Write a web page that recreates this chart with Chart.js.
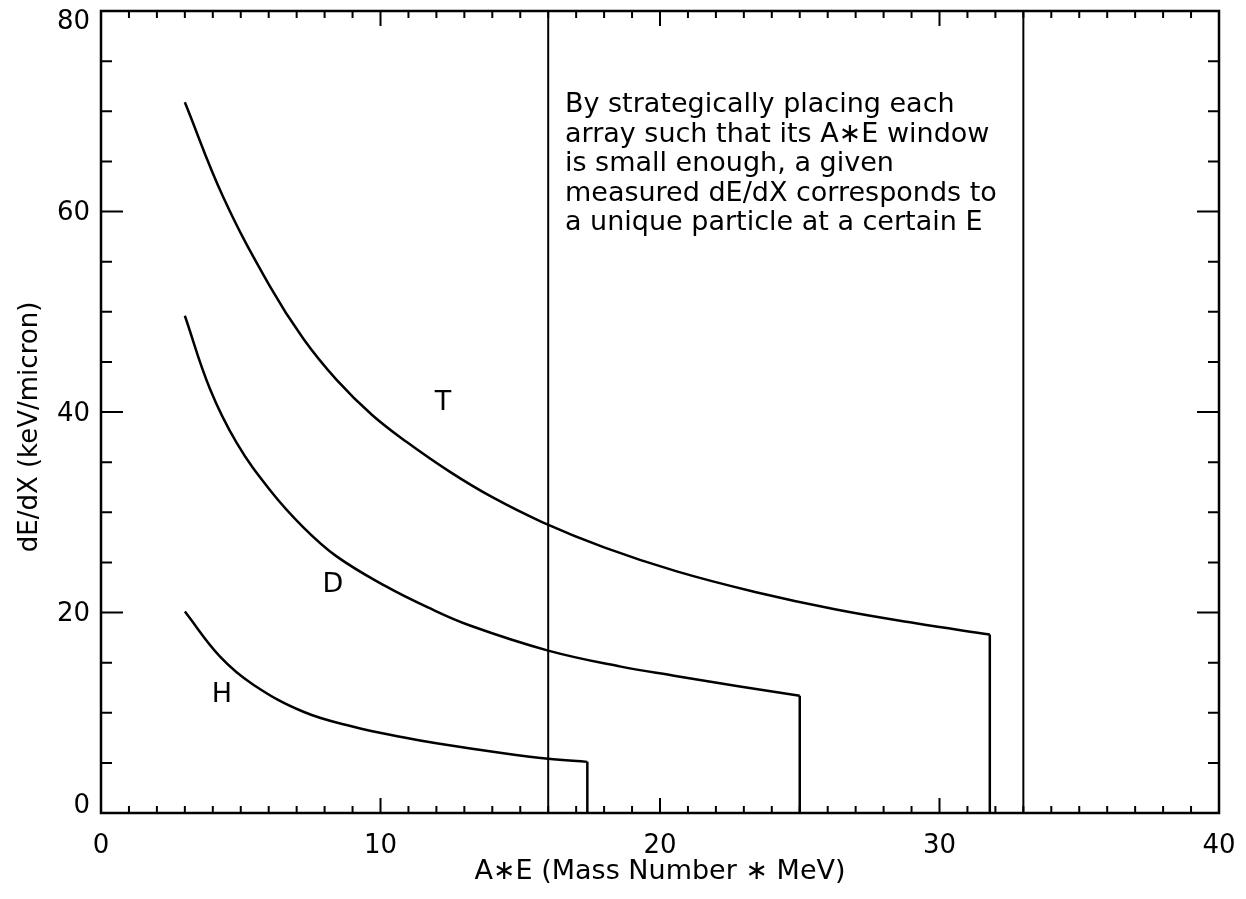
<!DOCTYPE html>
<html lang="en">
<head>
    <meta charset="UTF-8">
    <title>dE/dX vs A*E</title>
    <script src="https://cdn.jsdelivr.net/npm/chart.js"></script>
    <style>
        html, body { margin: 0; padding: 0; background: #fff; }
        #wrap { width: 1246px; height: 899px; }
    </style>
</head>
<body>
<div id="wrap"><canvas id="dedxChart" width="1246" height="899"></canvas></div>

<script>
    // Curves (A*E in MeV, dE/dX in keV/micron)
    const tritonX = [3.0, 4.38, 6.05, 7.24, 8.43, 9.7, 10.94, 12.5, 14.0, 15.8, 18.0, 20.6, 23.4, 26.3, 29.1, 31.8];
    const tritonY = [70.9, 61.4, 52.5, 47.3, 43.2, 39.7, 37.0, 34.0, 31.5, 29.0, 26.5, 24.1, 22.05, 20.3, 18.95, 17.8];

    const deuteronX = [3.0, 3.9, 4.86, 6.05, 7.24, 8.43, 10.2, 11.7, 13.2, 16.0, 18.6, 20.5, 22.8, 25.0];
    const deuteronY = [49.6, 42.3, 36.9, 32.2, 28.5, 25.6, 22.6, 20.5, 18.7, 16.2, 14.6, 13.7, 12.65, 11.7];

    const protonX = [3.0, 4.26, 5.45, 7.24, 9.03, 10.8, 12.0, 14.4, 16.0, 17.4];
    const protonY = [20.1, 15.6, 12.8, 10.1, 8.6, 7.55, 6.95, 5.95, 5.4, 5.1];

    // window edges (vertical lines)
    const windowEdges = [16, 33];

    // curve labels
    const curveLabels = ['T', 'D', 'H'];
    const labelX = [12.24, 8.3, 4.33];
    const labelY = [40.9, 22.7, 11.8];

    const noteLines = [
        'By strategically placing each',
        'array such that its A\u2217E window',
        'is small enough, a given',
        'measured dE/dX corresponds to',
        'a unique particle at a certain E'
    ];
    const noteX = 16.6;
    const noteY = 70.6;

    const xTickLabels = [0, 10, 20, 30, 40];
    const yTickLabels = [0, 20, 40, 60, 80];

    const FONT = 'DejaVu Sans';

    function toPoints(xs, ys) {
        return xs.map((x, i) => ({x: x, y: ys[i]}));
    }

    function dropLine(xs, ys) {
        const n = xs.length - 1;
        return [{x: xs[n], y: ys[n]}, {x: xs[n], y: 0}];
    }

    const lineStyle = {
        borderColor: '#000',
        borderWidth: 2.5,
        pointRadius: 0,
        fill: false
    };

    const datasets = [
        Object.assign({data: toPoints(tritonX, tritonY), tension: 0.4}, lineStyle),
        Object.assign({data: toPoints(deuteronX, deuteronY), tension: 0.4}, lineStyle),
        Object.assign({data: toPoints(protonX, protonY), tension: 0.4}, lineStyle),
        Object.assign({data: dropLine(tritonX, tritonY)}, lineStyle),
        Object.assign({data: dropLine(deuteronX, deuteronY)}, lineStyle),
        Object.assign({data: dropLine(protonX, protonY)}, lineStyle)
    ];
    windowEdges.forEach(e => {
        datasets.push(Object.assign({data: [{x: e, y: 0}, {x: e, y: 80}]}, lineStyle, {borderWidth: 2}));
    });

    // frame, inward ticks, y labels, curve labels and the note
    const decorations = {
        id: 'decorations',
        afterDatasetsDraw(chart) {
            const {ctx, chartArea: a, scales: {x, y}} = chart;
            ctx.save();
            ctx.strokeStyle = '#000';
            ctx.lineWidth = 2.5;
            ctx.strokeRect(a.left, a.top, a.right - a.left, a.bottom - a.top);

            ctx.lineWidth = 2;
            ctx.beginPath();
            for (let v = 1; v < 40; v++) {
                const px = x.getPixelForValue(v);
                const len = v % 10 === 0 ? 15 : 7;
                ctx.moveTo(px, a.bottom); ctx.lineTo(px, a.bottom - len);
                ctx.moveTo(px, a.top); ctx.lineTo(px, a.top + len);
            }
            for (let v = 5; v < 80; v += 5) {
                const py = y.getPixelForValue(v);
                const len = v % 20 === 0 ? 22 : 11;
                ctx.moveTo(a.left, py); ctx.lineTo(a.left + len, py);
                ctx.moveTo(a.right, py); ctx.lineTo(a.right - len, py);
            }
            ctx.stroke();

            ctx.fillStyle = '#000';

            // y tick labels, kept inside the axis span like the original
            ctx.font = '26px "' + FONT + '"';
            ctx.textAlign = 'right';
            yTickLabels.forEach(v => {
                let py = y.getPixelForValue(v) + 2;
                ctx.textBaseline = 'middle';
                if (v === y.max) { ctx.textBaseline = 'top'; py = a.top - 2; }
                if (v === y.min) { ctx.textBaseline = 'alphabetic'; py = a.bottom; }
                ctx.fillText(String(v), a.left - 11, py);
            });

            // y axis title
            ctx.save();
            ctx.font = '26px "' + FONT + '"';
            ctx.textAlign = 'center';
            ctx.textBaseline = 'middle';
            ctx.translate(30, (a.top + a.bottom) / 2 + 15);
            ctx.rotate(-Math.PI / 2);
            ctx.fillText('dE/dX (keV/micron)', 0, 0);
            ctx.restore();

            ctx.font = '27px "' + FONT + '"';
            ctx.textAlign = 'center';
            ctx.textBaseline = 'middle';
            curveLabels.forEach((t, i) => {
                ctx.fillText(t, x.getPixelForValue(labelX[i]), y.getPixelForValue(labelY[i]));
            });

            ctx.textAlign = 'left';
            const nx = x.getPixelForValue(noteX);
            const ny = y.getPixelForValue(noteY);
            noteLines.forEach((t, i) => {
                ctx.fillText(t, nx, ny + i * 29.5);
            });
            ctx.restore();
        }
    };

    const ctx = document.getElementById('dedxChart').getContext('2d');
    new Chart(ctx, {
        type: 'line',
        data: {datasets: datasets},
        options: {
            responsive: false,
            animation: false,
            layout: {padding: {top: 11, right: 27, left: 0, bottom: 0}},
            plugins: {legend: {display: false}, tooltip: {enabled: false}},
            scales: {
                x: {
                    type: 'linear',
                    min: 0,
                    max: 40,
                    grid: {display: false},
                    border: {display: false},
                    afterBuildTicks: s => { s.ticks = xTickLabels.map(v => ({value: v})); },
                    afterFit: s => { s.height = 86; s.paddingLeft = 0; s.paddingRight = 0; },
                    ticks: {
                        color: '#000',
                        font: {family: FONT, size: 26},
                        padding: 10,
                        maxRotation: 0
                    },
                    title: {
                        display: true,
                        text: 'A\u2217E (Mass Number \u2217 MeV)',
                        color: '#000',
                        font: {family: FONT, size: 27},
                        padding: {top: 4, bottom: 11}
                    }
                },
                y: {
                    type: 'linear',
                    min: 0,
                    max: 80,
                    grid: {display: false},
                    border: {display: false},
                    afterBuildTicks: s => { s.ticks = yTickLabels.map(v => ({value: v})); },
                    afterFit: s => { s.width = 101; s.paddingTop = 0; s.paddingBottom = 0; },
                    ticks: {display: false},
                    title: {display: false}
                }
            }
        },
        plugins: [decorations]
    });
</script>
</body>
</html>
